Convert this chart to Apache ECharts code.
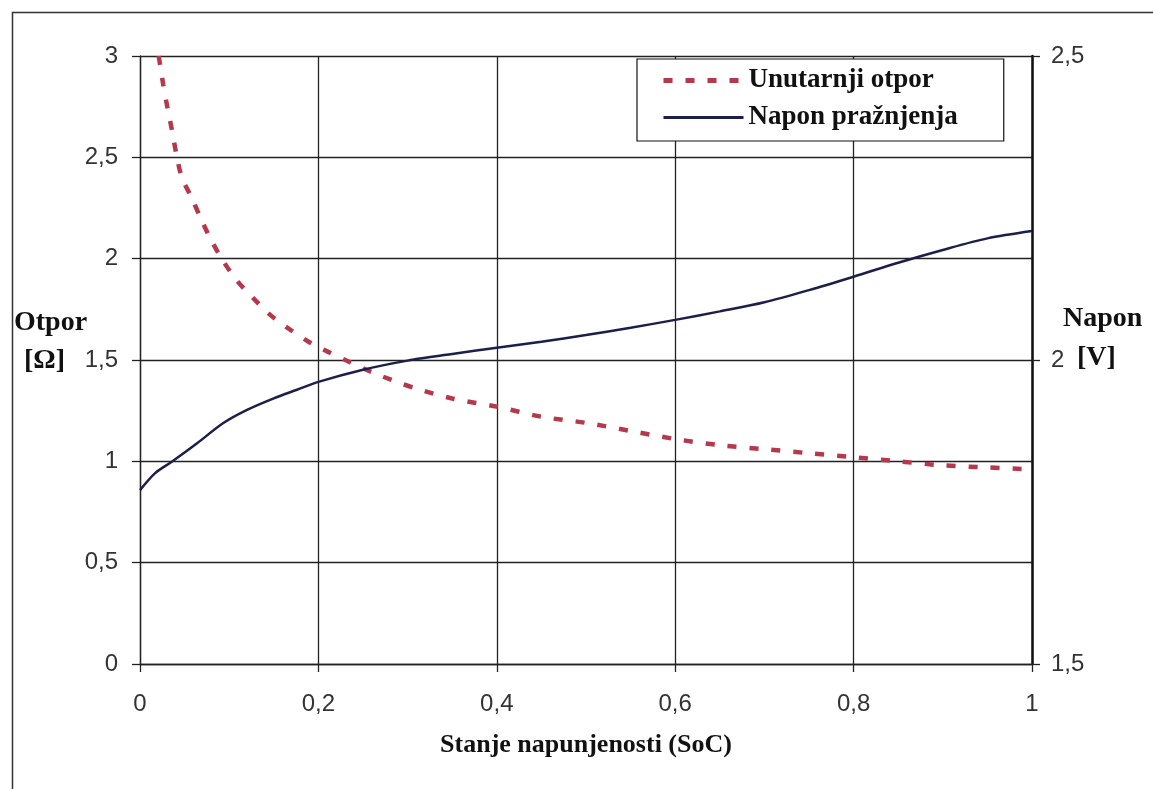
<!DOCTYPE html>
<html>
<head>
<meta charset="utf-8">
<script src="https://cdn.jsdelivr.net/npm/echarts@6/dist/echarts.min.js"></script>
<style>
html,body{margin:0;padding:0;background:#fff;}
#c{width:1153px;height:789px;}
</style>
</head>
<body>
<div id="c"></div>
<script>
// X axis: state of charge
var xTicks = [0, 0.2, 0.4, 0.6, 0.8, 1];
var leftTicks = [0, 0.5, 1, 1.5, 2, 2.5, 3];
var rightTicks = [1.5, 2, 2.5];

// Internal resistance [Ohm] (left axis)
var resistanceSoC = [0.021,0.026,0.031,0.036,0.041,0.047,0.058,0.069,0.080,0.093,0.109,0.126,0.144,0.165,0.189,0.211,0.235,0.260,0.283,0.309,0.35,0.4,0.45,0.5,0.55,0.6,0.65,0.7,0.75,0.8,0.85,0.9,0.95,1.0];
var resistanceVal = [3.0,2.86,2.74,2.63,2.51,2.40,2.30,2.19,2.09,1.99,1.89,1.81,1.73,1.66,1.59,1.54,1.49,1.44,1.40,1.36,1.31,1.27,1.22,1.19,1.15,1.11,1.08,1.06,1.04,1.02,1.00,0.98,0.97,0.96];

// Discharge voltage [V] (right axis)
var voltageSoC = [0,0.017,0.036,0.064,0.093,0.12,0.15,0.176,0.2,0.25,0.3,0.35,0.4,0.45,0.5,0.55,0.6,0.65,0.7,0.75,0.8,0.85,0.9,0.95,1.0];
var voltageVal = [1.786,1.814,1.833,1.863,1.896,1.918,1.937,1.951,1.964,1.984,1.999,2.010,2.020,2.030,2.041,2.053,2.066,2.080,2.095,2.115,2.137,2.160,2.181,2.200,2.212];

function zip(a,b){return a.map(function(v,i){return [v,b[i]];});}
function comma(v){return String(Math.round(v*100)/100).replace('.',',');}

var serif = '"Liberation Serif", "Times New Roman", serif';
var sans = '"Liberation Sans", Arial, sans-serif';
var red = '#b5384c', navy = '#1b1f4a';

var chart = echarts.init(document.getElementById('c'));
chart.setOption({
  animation:false,
  backgroundColor:'#fff',
  grid:{left:140, right:121, top:56, bottom:125, show:false},
  legend:{
    left:637, top:59, orient:'vertical',
    backgroundColor:'#fff', borderColor:'#111', borderWidth:1.2,
    padding:[8,46,10,24], itemGap:10, itemWidth:80, itemHeight:16,
    itemStyle:{opacity:0},
    textStyle:{fontFamily:serif, fontWeight:'bold', fontSize:27, color:'#111'},
    data:[
      {name:'Unutarnji otpor', itemStyle:{opacity:0}, lineStyle:{color:red, width:5, type:[9,13]}},
      {name:'Napon pražnjenja', itemStyle:{opacity:0}, lineStyle:{color:navy, width:3}}
    ]
  },
  xAxis:{
    type:'value', min:xTicks[0], max:xTicks[xTicks.length-1], interval:0.2,
    name:'Stanje napunjenosti (SoC)', nameLocation:'middle', nameGap:68,
    nameTextStyle:{fontFamily:serif, fontWeight:'bold', fontSize:26, color:'#111'},
    axisLine:{show:true, lineStyle:{color:'#222', width:1.3}},
    axisTick:{show:true, length:8, inside:false, lineStyle:{color:'#222', width:1.3}},
    axisLabel:{fontFamily:sans, fontSize:24, color:'#333', margin:28, formatter:comma},
    splitLine:{show:true, lineStyle:{color:'#222', width:1.3}}
  },
  yAxis:[{
    type:'value', min:leftTicks[0], max:leftTicks[leftTicks.length-1], interval:0.5, position:'left',
    axisLine:{show:true, lineStyle:{color:'#222', width:1.3}},
    axisTick:{show:true, length:8, lineStyle:{color:'#222', width:1.3}},
    axisLabel:{fontFamily:sans, fontSize:24, color:'#333', margin:22, formatter:comma},
    splitLine:{show:true, lineStyle:{color:'#222', width:1.3}}
  },{
    type:'value', min:rightTicks[0], max:rightTicks[rightTicks.length-1], interval:0.5, position:'right',
    axisLine:{show:true, lineStyle:{color:'#111', width:2.5}},
    axisTick:{show:true, length:8, lineStyle:{color:'#222', width:1.3}},
    axisLabel:{fontFamily:sans, fontSize:24, color:'#333', margin:19, formatter:comma},
    splitLine:{show:false}
  }],
  series:[{
    name:'Unutarnji otpor', type:'line', yAxisIndex:0, symbol:'none', smooth:0.3,
    data:zip(resistanceSoC, resistanceVal),
    lineStyle:{color:red, width:4.5, type:[9,13]},
    itemStyle:{color:red}
  },{
    name:'Napon pražnjenja', type:'line', yAxisIndex:1, symbol:'none', smooth:0.3,
    data:zip(voltageSoC, voltageVal),
    lineStyle:{color:navy, width:2.5},
    itemStyle:{color:navy}
  }],
  graphic:[
    {type:'rect', left:10, top:10, shape:{width:1200, height:820}, style:{fill:'none', stroke:'#333', lineWidth:1.5}, silent:true, z:-10},
    {type:'text', left:14, top:309, style:{text:'Otpor', font:'bold 28px '+serif, fill:'#111'}},
    {type:'text', left:24, top:347, style:{text:'[Ω]', font:'bold 28px '+serif, fill:'#111'}},
    {type:'text', left:1063, top:305, style:{text:'Napon', font:'bold 28px '+serif, fill:'#111'}},
    {type:'text', left:1077, top:344, style:{text:'[V]', font:'bold 28px '+serif, fill:'#111'}}
  ]
});
</script>
</body>
</html>
